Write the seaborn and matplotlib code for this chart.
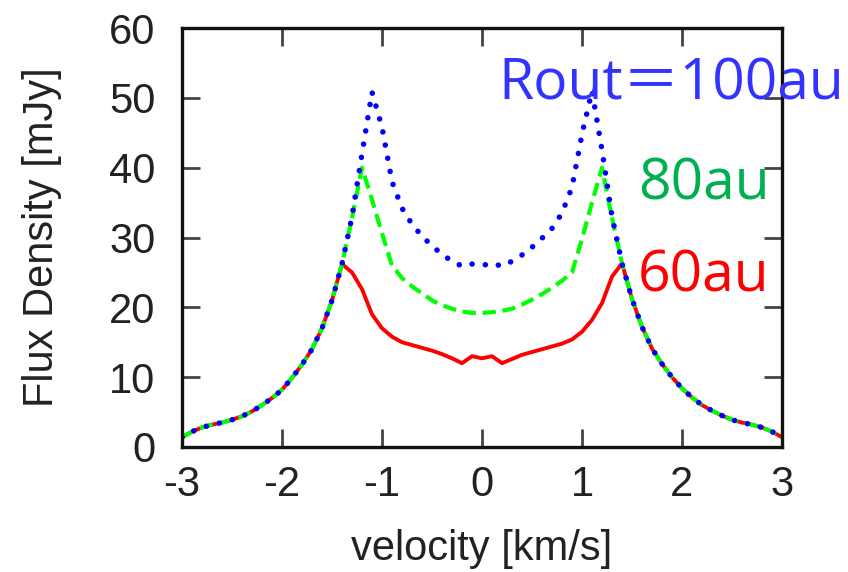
import numpy as np
import pandas as pd
import matplotlib
matplotlib.use("Agg")
import matplotlib.pyplot as plt
import seaborn as sns

# velocity grid [km/s]
velocity = [-3.0, -2.9, -2.8, -2.7, -2.6, -2.5, -2.4, -2.3, -2.2, -2.1,
            -2.0, -1.9, -1.8, -1.7, -1.6, -1.5, -1.4, -1.3, -1.2, -1.1,
            -1.0, -0.9, -0.8, -0.7, -0.6, -0.5, -0.4, -0.3, -0.2, -0.1,
            0.0, 0.1, 0.2, 0.3, 0.4, 0.5, 0.6, 0.7, 0.8, 0.9,
            1.0, 1.1, 1.2, 1.3, 1.4, 1.5, 1.6, 1.7, 1.8, 1.9,
            2.0, 2.1, 2.2, 2.3, 2.4, 2.5, 2.6, 2.7, 2.8, 2.9, 3.0]

# flux density [mJy], Rout = 60au (solid red)
flux_60 = [1.4, 2.2, 2.8, 3.2, 3.5, 3.9, 4.4, 5.1, 6.0, 7.0,
           8.2, 9.9, 11.8, 14.0, 17.0, 21.0, 26.2, 25.0, 22.6, 19.0,
           17.0, 15.8, 15.0, 14.6, 14.2, 13.8, 13.3, 12.7, 12.0, 13.0,
           12.7, 13.0, 12.0, 12.6, 13.2, 13.6, 14.0, 14.4, 14.8, 15.4,
           16.5, 18.2, 20.6, 24.4, 26.3, 21.2, 17.2, 14.1, 11.9, 10.0,
           8.4, 7.1, 6.0, 5.2, 4.5, 3.9, 3.5, 3.2, 2.8, 2.2, 1.4]

# Rout = 80au (dashed green)
flux_80 = [1.4, 2.2, 2.8, 3.2, 3.5, 3.9, 4.4, 5.1, 6.0, 7.0,
           8.2, 9.9, 11.8, 14.0, 17.0, 21.0, 26.2, 32.8, 40.0, 35.4,
           30.6, 26.0, 24.2, 23.0, 22.0, 21.0, 20.3, 19.8, 19.4, 19.2,
           19.2, 19.3, 19.5, 19.8, 20.4, 21.1, 21.9, 22.8, 23.8, 25.0,
           29.8, 35.0, 40.0, 32.8, 26.3, 21.2, 17.2, 14.1, 11.9, 10.0,
           8.4, 7.1, 6.0, 5.2, 4.5, 3.9, 3.5, 3.2, 2.8, 2.2, 1.4]

# Rout = 100au (dotted blue)
flux_100 = [1.4, 2.2, 2.8, 3.2, 3.5, 3.9, 4.4, 5.1, 6.0, 7.0,
            8.2, 9.9, 11.8, 14.0, 17.0, 21.0, 26.2, 33.0, 42.0, 50.8,
            45.8, 38.0, 34.2, 31.9, 30.2, 28.8, 27.6, 26.6, 25.9, 26.2,
            26.0, 26.3, 25.9, 26.6, 27.5, 28.6, 29.9, 31.3, 33.5, 37.2,
            44.8, 51.0, 42.5, 33.0, 26.3, 21.2, 17.2, 14.1, 11.9, 10.0,
            8.4, 7.1, 6.0, 5.2, 4.5, 3.9, 3.5, 3.2, 2.8, 2.2, 1.4]

labels = ["Rout\uff1d100au", "80au", "60au"]
label_colors = ["#3333ff", "#00b050", "#ff0000"]

df = pd.DataFrame({"velocity": velocity, "f60": flux_60,
                   "f80": flux_80, "f100": flux_100})

sns.set_style("ticks")
plt.rcParams["font.family"] = ["Liberation Sans", "DejaVu Sans"]
plt.rcParams["text.color"] = "#222222"
plt.rcParams["axes.labelcolor"] = "#222222"

fig = plt.figure(figsize=(8.48, 5.72), dpi=100)
ax = fig.add_axes([182 / 848, 125 / 572, 600 / 848, 419 / 572])

sns.lineplot(data=df, x="velocity", y="f60", ax=ax, color="#ff0000",
             linewidth=2.8, sort=False)
sns.lineplot(data=df, x="velocity", y="f80", ax=ax, color="#00ff00",
             linewidth=3.0, linestyle=(0, (3.2, 1.6)), sort=False)
sns.lineplot(data=df, x="velocity", y="f100", ax=ax, color="#0000ff",
             linewidth=4.0, linestyle=(0, (0.01, 2.4)),
             dash_capstyle="round", sort=False)

ax.set_xlim(-3, 3)
ax.set_ylim(0, 60)
ax.set_xticks([-3, -2, -1, 0, 1, 2, 3])
ax.set_yticks([0, 10, 20, 30, 40, 50, 60])
ax.set_xticklabels(["-3", "-2", "-1", "0", "1", "2", "3"])

ax.set_xlabel("velocity [km/s]", fontsize=30)
ax.set_ylabel("Flux Density [mJy]", fontsize=30)
ax.xaxis.set_label_coords(0.5, -0.195)
ax.yaxis.set_label_coords(-0.2, 0.5)

for s in ax.spines.values():
    s.set_visible(True)
    s.set_linewidth(2.4)
    s.set_color("#111111")
ax.tick_params(axis="both", which="major", direction="in", length=13,
               width=2.0, color="#444444", labelsize=30,
               labelcolor="#222222", top=True, right=True)
ax.tick_params(axis="x", pad=13)
ax.tick_params(axis="y", pad=19)

text_font = ["Open Sans", "Noto Sans CJK JP"]
fig.text(498 / 848, 1 - 100 / 572, labels[0], fontsize=41,
         color=label_colors[0], family=text_font, ha="left", va="baseline")
fig.text(638 / 848, 1 - 199 / 572, labels[1], fontsize=41,
         color=label_colors[1], family=text_font, ha="left", va="baseline")
fig.text(638 / 848, 1 - 291 / 572, labels[2], fontsize=41,
         color=label_colors[2], family=text_font, ha="left", va="baseline")

fig.savefig("out.png", dpi=100)
